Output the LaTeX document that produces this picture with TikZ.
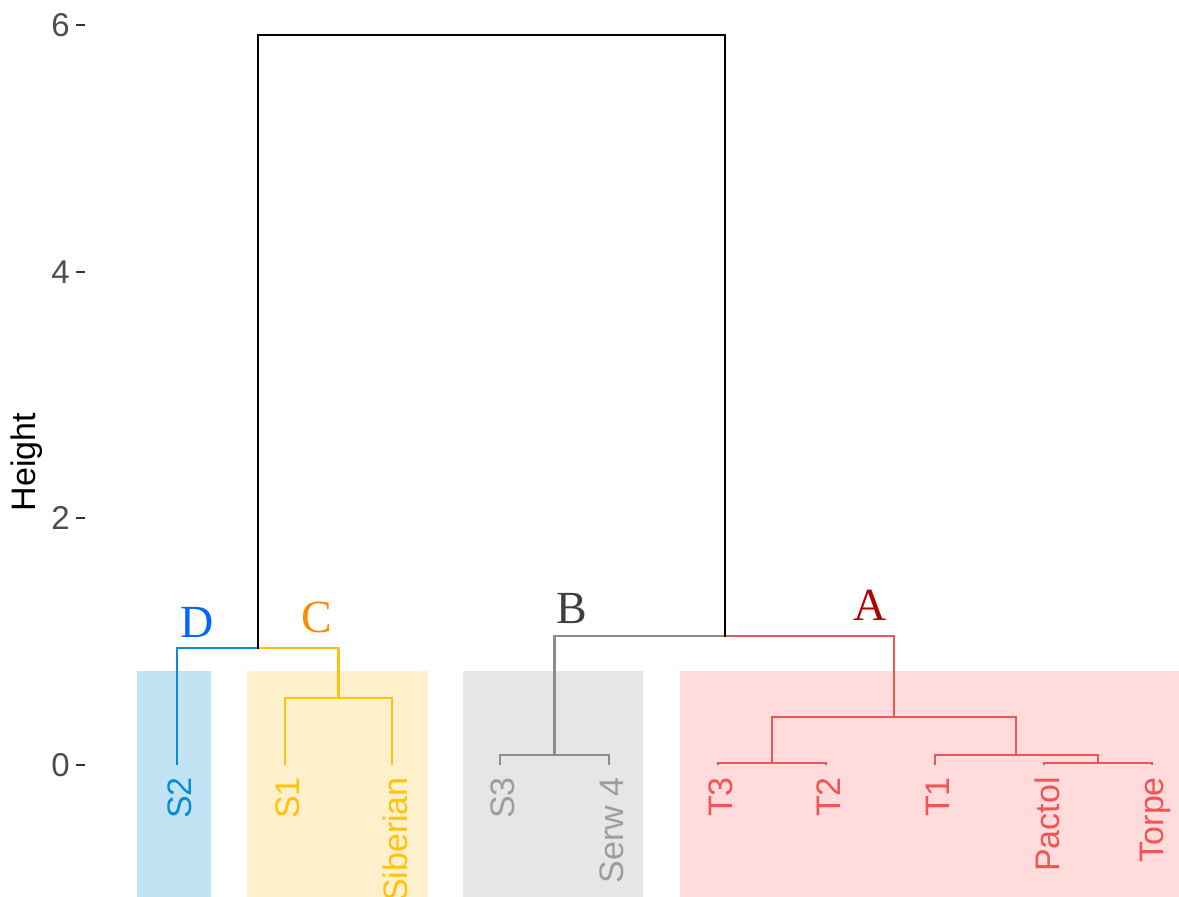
\documentclass[tikz,border=0pt]{standalone}
\usepackage{fontspec}
\setmainfont{Liberation Sans}
\newfontfamily\letterfont{Liberation Serif}
\definecolor{lnD}{HTML}{0A8CD4}
\definecolor{lnC}{HTML}{FFC20E}
\definecolor{lnB}{HTML}{8C8C8C}
\definecolor{lnA}{HTML}{EE5555}
\definecolor{bgD}{HTML}{C2E3F4}
\definecolor{bgC}{HTML}{FFF0CC}
\definecolor{bgB}{HTML}{E6E6E6}
\definecolor{bgA}{HTML}{FFDCDB}
\definecolor{ltD}{HTML}{0066FF}
\definecolor{ltC}{HTML}{FF8C00}
\definecolor{ltB}{HTML}{3F3F3F}
\definecolor{ltA}{HTML}{B00000}
\definecolor{axtext}{HTML}{4D4D4D}
\begin{document}
\begin{tikzpicture}[x=1pt,y=-1pt,
  branch/.style={line width=2.2pt},
  leaf/.style={rotate=90, anchor=east, inner sep=0pt, font=\fontsize{34}{40}\selectfont},
  ticklab/.style={anchor=east, inner sep=0pt, text=axtext, font=\fontsize{33}{38}\selectfont},
  tickmark/.style={line width=2pt, draw=black!80},
  letter/.style={inner sep=0pt, font=\letterfont\fontsize{46}{50}\selectfont},
  bgbox/.style={draw=none}]
\useasboundingbox (0,0) rectangle (1179,897);
% backgrounds
\fill[bgD] (137,671) rectangle (211,897);
\fill[bgC] (247,671) rectangle (428,897);
\fill[bgB] (463,671) rectangle (643,897);
\fill[bgA] (680,671) rectangle (1179,897);
% leaves
\coordinate (S2) at (177,765);
\coordinate (S1) at (285,765);
\coordinate (Sib) at (392,765);
\coordinate (S3) at (500,765);
\coordinate (Serw) at (609,765);
\coordinate (T3) at (718,765);
\coordinate (T2) at (826,765);
\coordinate (T1) at (935,765);
\coordinate (Pac) at (1044,765);
\coordinate (Tor) at (1152,765);
% merge points
\coordinate (jDC) at (258,648);
\coordinate (c1) at (338.5,698);
\coordinate (top) at (491,35);
\coordinate (jBA) at (725,636);
\coordinate (b1) at (554.5,755);
\coordinate (a1) at (894,717);
\coordinate (a2) at (772,763);
\coordinate (a3) at (1016,755);
\coordinate (a4) at (1098,763);
% branches
\draw[branch, lnD] (S2) |- (jDC);
\draw[branch, lnC] (jDC) -| (c1);
\draw[branch, lnC] (S1) |- (c1) -| (Sib);
\draw[branch, lnB] (jBA) -| (b1);
\draw[branch, lnB] (S3) |- (b1) -| (Serw);
\draw[branch, lnA] (jBA) -| (a1);
\draw[branch, lnA] (a2) |- (a1) -| (a3);
\draw[branch, lnA] (T3) |- (a2) -| (T2);
\draw[branch, lnA] (T1) |- (a3) -| (a4);
\draw[branch, lnA] (Pac) |- (a4) -| (Tor);
\draw[branch, black, line cap=rect] (jDC) |- (top) -| (jBA);
% leaf labels
\node[leaf, text=lnD] (lS2) at (180,777) {S2};
\node[leaf, text=lnC] (lS1) at (288,777) {S1};
\node[leaf, text=lnC] (lSib) at (395,777) {Siberian};
\node[leaf, text=lnB!85] (lS3) at (503,777) {S3};
\node[leaf, text=lnB!85] (lSerw) at (612,777) {Serw 4};
\node[leaf, text=lnA] (lT3) at (721,777) {T3};
\node[leaf, text=lnA] (lT2) at (829,777) {T2};
\node[leaf, text=lnA] (lT1) at (938,777) {T1};
\node[leaf, text=lnA] (lPac) at (1047,777) {Pactol};
\node[leaf, text=lnA] (lTor) at (1155,777) {Torpe};
% cluster letters
\node[letter, text=ltD] (lD) at (197,622) {D};
\node[letter, text=ltC] (lC) at (317,617) {C};
\node[letter, text=ltB] (lB) at (572,609) {B};
\node[letter, text=ltA] (lA) at (870,605) {A};
% axis
\coordinate (t0) at (85,765);
\coordinate (t2) at (85,518);
\coordinate (t4) at (85,272);
\coordinate (t6) at (85,25);
\draw[tickmark] (t0) -- ++(-9,0);
\draw[tickmark] (t2) -- ++(-9,0);
\draw[tickmark] (t4) -- ++(-9,0);
\draw[tickmark] (t6) -- ++(-9,0);
\node[ticklab] (n0) at (70,765) {0};
\node[ticklab] (n2) at (70,518) {2};
\node[ticklab] (n4) at (70,272) {4};
\node[ticklab] (n6) at (70,25) {6};
\node[rotate=90, inner sep=0pt, font=\fontsize{34}{40}\selectfont] (ylab) at (27,462) {Height};
\end{tikzpicture}
\end{document}
